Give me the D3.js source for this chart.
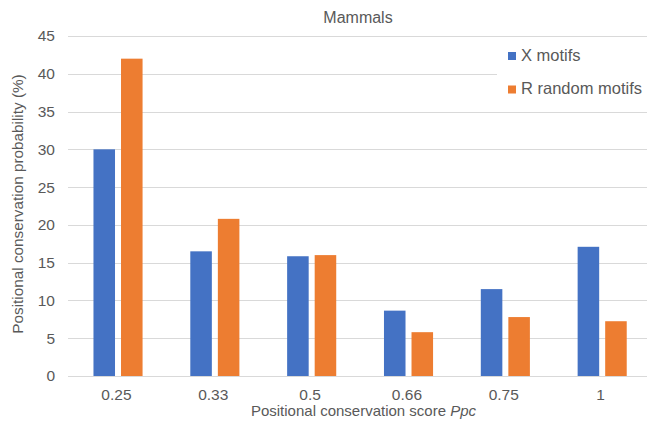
<!DOCTYPE html>
<html><head><meta charset="utf-8">
<script src="https://cdn.jsdelivr.net/npm/d3@7"></script>
<style>html,body{margin:0;padding:0;background:#fff;}svg{display:block;font-family:"Liberation Sans",Arial,sans-serif;}</style>
</head><body>
<svg id="c" width="647" height="429"></svg>
<script>
const categories = ["0.25", "0.33", "0.5", "0.66", "0.75", "1"];
const seriesNames = ["X motifs", "R random motifs"];
const xMotifs = [30.0, 16.5, 15.85, 8.65, 11.5, 17.1];
const rRandomMotifs = [42.0, 20.8, 16.0, 5.8, 7.8, 7.25];
const yTicks = [0, 5, 10, 15, 20, 25, 30, 35, 40, 45];
const colors = ["#4472C4", "#ED7D31"];
const seriesValues = [xMotifs, rRandomMotifs];

(function () {
const svg = d3.select("#c");
const pLeft = 68, pRight = 649, pTop = 36, pBottom = 376;
const x = d3.scaleBand().domain(categories).range([pLeft, pRight]).padding(0);
const bw = x.bandwidth();
const x1 = d3.scaleBand().domain(seriesNames).range([bw * 0.263, bw * 0.770]).paddingInner(0.218).paddingOuter(0);
const y = d3.scaleLinear().domain([0, 45]).range([pBottom, pTop]);

// gridlines
svg.append("g").selectAll("line").data(yTicks).join("line")
  .attr("x1", pLeft).attr("x2", 647)
  .attr("y1", d => Math.round(y(d)) + 0.5).attr("y2", d => Math.round(y(d)) + 0.5)
  .attr("stroke", "#d9d9d9").attr("stroke-width", 1);

// y tick labels
const yAxis = svg.append("g").attr("transform", `translate(${pLeft},0)`)
  .call(d3.axisLeft(y).tickValues(yTicks).tickSize(0).tickPadding(13));
yAxis.select(".domain").remove();
yAxis.selectAll("text").attr("fill", "#595959").style("font-size", "15.5px").style("font-family", "Liberation Sans, Arial, sans-serif");

// bars
seriesNames.forEach((s, si) => {
  svg.append("g").selectAll("rect").data(seriesValues[si]).join("rect")
    .attr("x", (d, i) => x(categories[i]) + x1(s))
    .attr("width", x1.bandwidth())
    .attr("y", d => y(d))
    .attr("height", d => y(0) - y(d))
    .attr("fill", colors[si]);
});

// x axis
const xAxis = svg.append("g").attr("transform", `translate(0,${pBottom})`)
  .call(d3.axisBottom(x).tickSize(0).tickPadding(13));
xAxis.select(".domain").remove();
xAxis.selectAll("text").attr("fill", "#595959").style("font-size", "15.5px").style("font-family", "Liberation Sans, Arial, sans-serif");
svg.append("line").attr("x1", pLeft).attr("x2", 647).attr("y1", pBottom + 0.5).attr("y2", pBottom + 0.5)
  .attr("stroke", "#d9d9d9").attr("stroke-width", 1);

// title
svg.append("text").attr("x", 358).attr("y", 23).attr("text-anchor", "middle")
  .attr("fill", "#595959").style("font-size", "16px").text("Mammals");

// x title
const xt = svg.append("text").attr("x", 363.5).attr("y", 416).attr("text-anchor", "middle")
  .attr("fill", "#595959").style("font-size", "15px");
xt.append("tspan").text("Positional conservation score ");
xt.append("tspan").style("font-style", "italic").text("Ppc");

// y title
svg.append("text").attr("transform", `translate(23,${(pTop + pBottom) / 2 - 2}) rotate(-90)`)
  .attr("text-anchor", "middle").attr("fill", "#595959").style("font-size", "15.3px")
  .text("Positional conservation probability (%)");

// legend
const lg = svg.append("g");
lg.append("rect").attr("x", 497).attr("y", 42).attr("width", 150).attr("height", 64).attr("fill", "#fff");
seriesNames.forEach((s, i) => {
  const yy = 52 + i * 33.5;
  lg.append("rect").attr("x", 508).attr("y", yy).attr("width", 8).attr("height", 8).attr("fill", colors[i]);
  lg.append("text").attr("x", 521).attr("y", yy + 8.5).attr("fill", "#595959").style("font-size", "16.5px").text(s);
});
})();
</script>
</body></html>
